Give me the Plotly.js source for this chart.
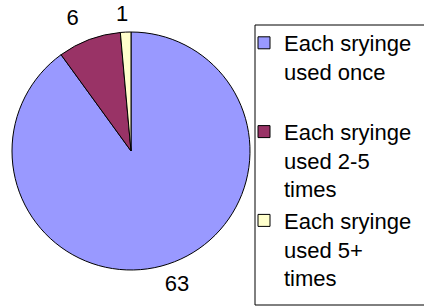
<!DOCTYPE html>
<html>
<head>
<meta charset="utf-8">
<script src="https://cdn.plot.ly/plotly-3.0.1.min.js"></script>
<style>html,body{margin:0;padding:0;background:#fff}#chart{width:424px;height:307px}</style>
</head>
<body>
<div id="chart"></div>
<script>
const categories = ["Each sryinge<br>used once<br> ", "Each sryinge<br>used 2-5<br>times", "Each sryinge<br>used 5+<br>times"];
const counts = [63, 6, 1];
const colors = ["#9999FF", "#993366", "#FFFFCC"];

const FONT = "Liberation Sans, Arial, sans-serif";
const CLEAR = ["rgba(0,0,0,0)", "rgba(0,0,0,0)", "rgba(0,0,0,0)"];

function pieBase() {
  return {
    type: "pie",
    labels: categories,
    values: counts,
    sort: false,
    direction: "clockwise",
    rotation: 0,
    textinfo: "value",
    outsidetextfont: {family: FONT, size: 22, color: "#000"},
    hoverinfo: "skip"
  };
}

// the visible pie (slices, no text)
const pie = Object.assign(pieBase(), {
  textposition: "none",
  marker: {colors: colors, line: {color: "#000", width: 1}},
  domain: {x: [12/424, 250/424], y: [37/307, 275/307]},
  hoverinfo: "label+value"
});

// value labels, placed by the library just outside the pie
const labelsBig = Object.assign(pieBase(), {
  textposition: ["outside", "none", "none"],
  marker: {colors: CLEAR, line: {width: 0}},
  domain: {x: [0, 242/424], y: [29/307, 271/307]},
  showlegend: false
});
const labelsMid = Object.assign(pieBase(), {
  textposition: ["none", "outside", "none"],
  marker: {colors: CLEAR, line: {width: 0}},
  domain: {x: [0, 262/424], y: [25/307, 287/307]},
  showlegend: false
});
const labelsSmall = Object.assign(pieBase(), {
  textposition: ["none", "none", "outside"],
  marker: {colors: CLEAR, line: {width: 0}},
  domain: {x: [15/424, 265/424], y: [31/307, 281/307]},
  showlegend: false
});

const layout = {
  width: 424, height: 307,
  margin: {l: 0, r: 0, t: 0, b: 0, autoexpand: false},
  paper_bgcolor: "#fff",
  font: {family: FONT, size: 22, color: "#000"},
  showlegend: true,
  legend: {
    x: 244/424, xanchor: "left",
    y: (307-22)/307, yanchor: "top",
    borderwidth: 0,
    bgcolor: "rgba(0,0,0,0)",
    font: {size: 22, color: "#000"},
    valign: "top",
    tracegroupgap: 0
  },
  shapes: [{
    type: "rect", xref: "paper", yref: "paper",
    x0: 255/424, x1: 1.05, y0: (307-305)/307, y1: (307-25)/307,
    line: {color: "#000", width: 1}, fillcolor: "rgba(0,0,0,0)", layer: "below"
  }]
};

Plotly.newPlot("chart", [pie, labelsBig, labelsMid, labelsSmall], layout, {staticPlot: true});
</script>
</body>
</html>
